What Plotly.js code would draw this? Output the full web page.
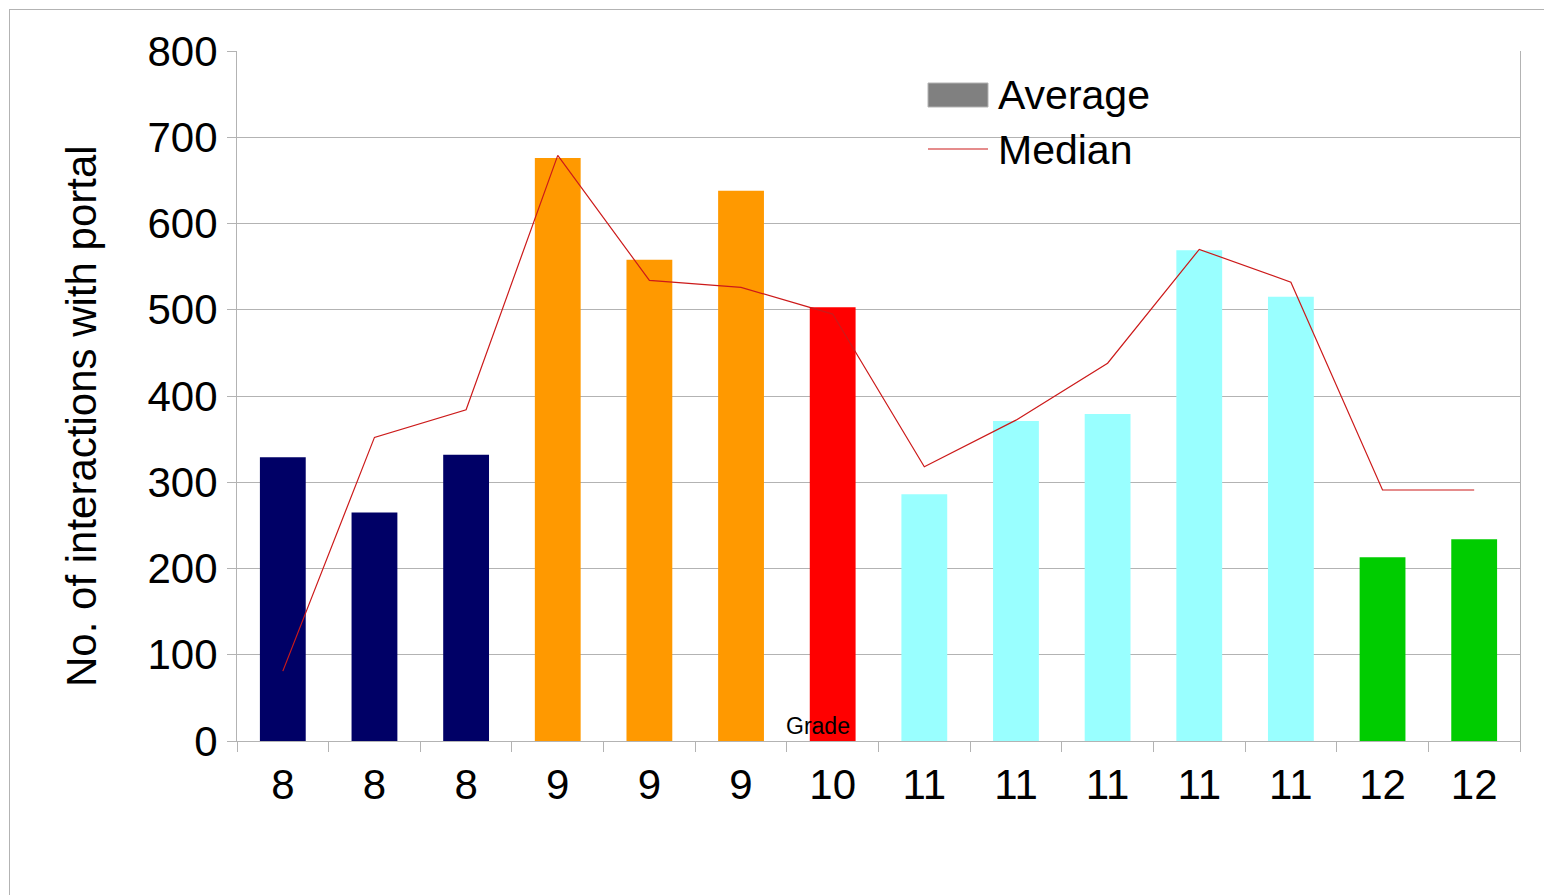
<!DOCTYPE html>
<html>
<head>
<meta charset="utf-8">
<script src="https://cdn.plot.ly/plotly-3.0.1.min.js"></script>
<style>
  html, body { margin: 0; padding: 0; background: #fff; overflow: hidden; }
  #frame { position: absolute; left: 9px; top: 9px; width: 1700px; height: 1000px; border: 1px solid #b3b3b3; box-sizing: border-box; pointer-events: none; }
  #chart { position: absolute; left: 0; top: 0; width: 1544px; height: 895px; }
</style>
</head>
<body>
<div id="chart"></div>
<div id="frame"></div>
<script>
// ---- data ----
const gradeLabels = ["8", "8", "8", "9", "9", "9", "10", "11", "11", "11", "11", "11", "12", "12"];
const averageValues = [329, 265, 332, 676, 558, 638, 503, 286, 371, 379, 569, 515, 213, 234];
const medianValues = [81, 352, 384, 679, 534, 526, 495, 318, 372, 438, 570, 532, 291, 291];
const gradeColors = {"8": "#000066", "9": "#ff9900", "10": "#ff0000", "11": "#99ffff", "12": "#00cc00"};
const yTitle = "No. of interactions with portal";
const xTitle = "Grade";

const positions = gradeLabels.map((_, i) => i);
const barColors = gradeLabels.map(g => gradeColors[g]);

// plot area in pixels (for legend/title placement helpers)
const W = 1544, H = 895;
const PL = 237, PR = 1520, PT = 51, PB = 741;
const px = x => (x - PL) / (PR - PL);
const py = y => (PB - y) / (PB - PT);

const FONT = "Liberation Sans, Arial, sans-serif";

const traces = [
  {
    type: "bar",
    name: "Average",
    x: positions,
    y: averageValues,
    width: 0.5,
    marker: { color: barColors, line: { width: 0 } },
    showlegend: false,
    hoverinfo: "y"
  },
  {
    type: "scatter",
    mode: "lines",
    name: "Median",
    x: positions,
    y: medianValues,
    line: { color: "#cc1a1a", width: 1.2 },
    showlegend: false,
    hoverinfo: "y"
  }
];

const layout = {
  width: W,
  height: H,
  margin: { l: PL, r: W - PR, t: PT, b: H - PB },
  paper_bgcolor: "rgba(0,0,0,0)",
  plot_bgcolor: "#ffffff",
  font: { family: FONT, color: "#000000", size: 42 },
  showlegend: false,
  xaxis: {
    range: [-0.5, gradeLabels.length - 0.5],
    tickmode: "array",
    tickvals: positions,
    ticktext: gradeLabels,
    ticks: "",
    ticklabelstandoff: 7,
    showgrid: false,
    zeroline: false,
    showline: true,
    linecolor: "#b3b3b3",
    linewidth: 1,
    tickfont: { family: FONT, size: 42, color: "#000" },
    minor: {
      tickmode: "linear",
      tick0: -0.5,
      dtick: 1,
      ticks: "outside",
      ticklen: 10,
      tickcolor: "#b3b3b3",
      tickwidth: 1,
      showgrid: false
    },
    fixedrange: true
  },
  yaxis: {
    range: [0, 800],
    tickmode: "linear",
    tick0: 0,
    dtick: 100,
    ticks: "outside",
    ticklen: 9,
    tickcolor: "#b3b3b3",
    ticklabelstandoff: 1,
    showgrid: true,
    gridcolor: "#b3b3b3",
    gridwidth: 1,
    zeroline: false,
    showline: true,
    mirror: true,
    linecolor: "#b3b3b3",
    linewidth: 1,
    tickfont: { family: FONT, size: 42, color: "#000" },
    fixedrange: true
  },
  shapes: [
    { type: "rect", xref: "paper", yref: "paper", x0: px(928), x1: px(988), y0: py(107), y1: py(83),
      fillcolor: "#808080", line: { color: "#b3b3b3", width: 1 } },
    { type: "line", xref: "paper", yref: "paper", x0: px(928), x1: px(988), y0: py(149), y1: py(149),
      line: { color: "#cc1a1a", width: 1.2 } }
  ],
  annotations: [
    { xref: "paper", yref: "paper", x: px(996), y: py(95), xanchor: "left", yanchor: "middle",
      text: "Average", showarrow: false, font: { family: FONT, size: 41, color: "#000" } },
    { xref: "paper", yref: "paper", x: px(996), y: py(150), xanchor: "left", yanchor: "middle",
      text: "Median", showarrow: false, font: { family: FONT, size: 41, color: "#000" } },
    { xref: "paper", yref: "paper", x: px(818), y: py(726), xanchor: "center", yanchor: "middle",
      text: xTitle, showarrow: false, font: { family: FONT, size: 23, color: "#000" } },
    { xref: "paper", yref: "paper", x: px(81), y: py(416), xanchor: "center", yanchor: "middle",
      textangle: -90, text: yTitle, showarrow: false, font: { family: FONT, size: 42, color: "#000" } }
  ]
};

Plotly.newPlot("chart", traces, layout, { displayModeBar: false, staticPlot: true });
</script>
</body>
</html>
